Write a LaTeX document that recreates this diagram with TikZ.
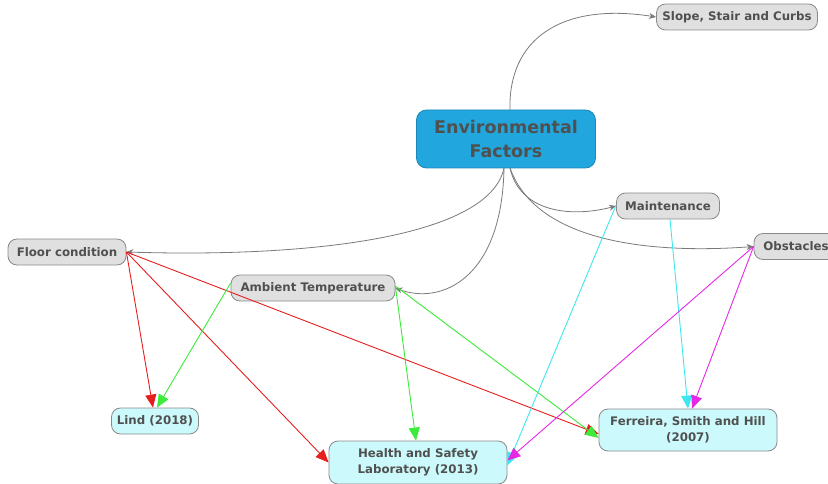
\documentclass[tikz,border=0pt]{standalone}
\usepackage{fontspec}
\setmainfont{DejaVu Sans}
\usetikzlibrary{arrows.meta}
\definecolor{txt}{HTML}{505050}
\definecolor{greyfill}{HTML}{E0E0E0}
\definecolor{greyline}{HTML}{8A8A8A}
\definecolor{cyanfill}{HTML}{CCFAFC}
\definecolor{envfill}{HTML}{22A6DE}
\definecolor{envline}{HTML}{1B88B8}
\definecolor{ered}{HTML}{E61E1E}
\definecolor{egreen}{HTML}{3CEB3C}
\definecolor{ecyan}{HTML}{3CE8EE}
\definecolor{emag}{HTML}{E628E6}
\definecolor{conn}{HTML}{7A7A7A}
\tikzset{
  x=1pt, y=-1pt,
  topic/.style={draw=greyline, fill=greyfill, rounded corners=9pt, line width=0.8pt,
    text=txt, font=\fontsize{11.8}{14}\selectfont\bfseries, inner xsep=4pt, minimum height=26pt},
  src/.style={draw=greyline, fill=cyanfill, rounded corners=9pt, line width=0.8pt,
    text=txt, font=\fontsize{11.8}{16}\selectfont\bfseries, align=center, inner xsep=4pt},
  envbox/.style={draw=envline, fill=envfill, rounded corners=10pt, line width=0.8pt,
    text=txt, font=\fontsize{17.5}{24}\selectfont\bfseries, align=center,
    minimum width=179pt, minimum height=58pt},
  greyarrow/.style={draw=conn, line width=0.8pt, -{Stealth[length=7pt,width=6pt]}},
  colarrow/.style={line width=0.9pt, -{Triangle[length=13pt,width=11pt]}},
}
\begin{document}
\begin{tikzpicture}
\useasboundingbox (0,0) rectangle (828,484);
\node[envbox] (env) at (506,139) {Environmental\\Factors};
\node[topic, minimum width=161pt] (slope) at (737,17) {Slope, Stair and Curbs};
\node[topic, minimum width=103pt] (maint) at (668,206) {Maintenance};
\node[topic, minimum width=84pt] (obs) at (796,246.5) {Obstacles};
\node[topic, minimum width=118pt] (fc) at (67,252) {Floor condition};
\node[topic, minimum width=164pt] (amb) at (313,288) {Ambient Temperature};
\node[src, minimum width=87pt, minimum height=26pt] (lind) at (155,421) {Lind (2018)};
\node[src, minimum width=178pt, minimum height=43pt] (hsl) at (418,462.5) {Health and Safety\\Laboratory (2013)};
\node[src, minimum width=178pt, minimum height=42pt] (fer) at (688,430) {Ferreira, Smith and Hill\\(2007)};

\coordinate (e1) at (510,110);
\coordinate (e2) at (504,168);
\coordinate (e3) at (510,168);
\draw[greyarrow] (e1) .. controls (508,40) and (560,2) .. (slope.west);
\draw[greyarrow] (e2) .. controls (490,235) and (320,258) .. (fc.east);
\draw[greyarrow] (e2) .. controls (502,280) and (440,305) .. (amb.east);
\draw[greyarrow] (e3) .. controls (520,212) and (570,218) .. (maint.west);
\draw[greyarrow] (e3) .. controls (540,252) and (680,252) .. (obs.west);

\draw[colarrow, ered] (fc.east) -- ([xshift=-2pt]lind.north);
\draw[colarrow, ered] (fc.east) -- (hsl.west);
\draw[colarrow, ered] (fc.east) -- ([yshift=-4pt]fer.west);
\draw[colarrow, egreen] ([yshift=5pt]amb.west) -- ([xshift=2pt]lind.north);
\draw[colarrow, egreen] ([yshift=2pt]amb.east) -- ([xshift=-2pt]hsl.north);
\draw[colarrow, egreen] ([yshift=2pt]amb.east) -- ([yshift=-8pt]fer.west);
\draw[colarrow, ecyan] ([yshift=1pt]maint.west) -- ([yshift=-3pt]hsl.east);
\draw[colarrow, ecyan] ([xshift=2pt]maint.south) -- (fer.north);
\draw[colarrow, emag] (obs.west) -- ([yshift=2pt]hsl.east);
\draw[colarrow, emag] (obs.west) -- ([xshift=4pt]fer.north);
\end{tikzpicture}
\end{document}
